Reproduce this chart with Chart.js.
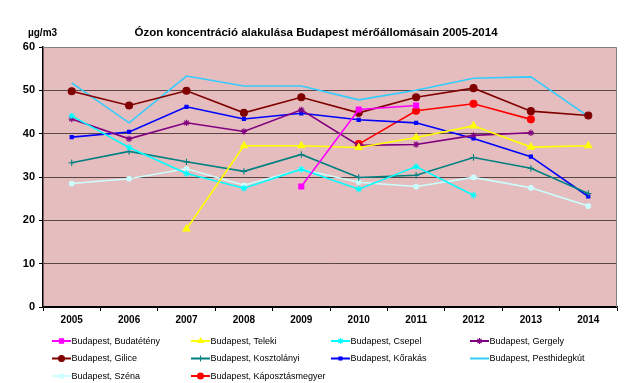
<!DOCTYPE html>
<html>
<head>
<meta charset="utf-8">
<script src="https://cdn.jsdelivr.net/npm/chart.js@4/dist/chart.umd.min.js"></script>
<style>
html,body{margin:0;padding:0;background:#fff;}
#wrap{position:relative;width:632px;height:383px;}
</style>
</head>
<body>
<div id="wrap"><canvas id="c" width="632" height="383"></canvas></div>
<script>
const years = ['2005','2006','2007','2008','2009','2010','2011','2012','2013','2014'];
const yTicks = [0,10,20,30,40,50,60];
const titleText = 'Ózon koncentráció alakulása Budapest mérőállomásain 2005-2014';
const unitText = 'µg/m3';

const budatetény = [null,null,null,null,27.8,45.6,46.5,null,null,null];
const teleki = [null,null,18.0,37.2,37.2,36.8,39.1,41.8,36.9,37.2];
const csepel = [44.1,36.8,30.8,27.4,31.8,27.2,32.4,25.8,null,null];
const gergely = [43.4,38.8,42.5,40.5,45.5,37.3,37.5,39.6,40.2,null];
const gilice = [49.8,46.5,49.9,44.8,48.4,44.8,48.4,50.5,45.2,44.2];
const kosztolanyi = [33.3,35.9,33.5,31.3,35.2,29.9,30.4,34.5,32.0,26.2];
const korakas = [39.2,40.4,46.2,43.4,44.7,43.2,42.5,38.9,34.7,25.5];
const pesthidegkut = [51.7,42.5,53.3,51.0,51.0,47.8,50.0,52.8,53.1,44.0];
const szena = [28.5,29.6,31.9,28.1,31.8,28.8,27.8,29.9,27.5,23.3];
const kaposztasmegyer = [null,null,null,null,null,37.6,45.3,46.9,43.3,null];

const seriesNames = ['Budapest, Budatétény','Budapest, Teleki','Budapest, Csepel','Budapest, Gergely',
  'Budapest, Gilice','Budapest, Kosztolányi','Budapest, Kőrakás','Budapest, Pesthidegkút',
  'Budapest, Széna','Budapest, Káposztásmegyer'];
const seriesData = [budatetény,teleki,csepel,gergely,gilice,kosztolanyi,korakas,pesthidegkut,szena,kaposztasmegyer];
const seriesColors = ['#FF00FF','#FFFF00','#00FFFF','#800080','#800000','#008080','#0000FF','#33CCFF','#CCFFFF','#FF0000'];
const seriesPoints = [['rect',3.5],['triangle',4],['star',3.2],['star',3.2],['circle',3.5],['cross',3.2],['rect',2.2],['circle',0],['circle',2.3],['circle',3.5]];

const datasets = seriesNames.map((n,i)=>({
  label:n, data:seriesData[i], borderColor:seriesColors[i], backgroundColor:seriesColors[i],
  borderWidth:1.6, pointStyle:seriesPoints[i][0], pointRadius:seriesPoints[i][1],
  pointBorderWidth:1.1, pointHoverRadius:seriesPoints[i][1], spanGaps:false, tension:0
}));

const FONT = '"Liberation Sans", Arial, sans-serif';

const bgPlugin = {
  id:'bg',
  beforeDraw(chart){
    const {ctx, chartArea:a} = chart;
    ctx.save();
    ctx.fillStyle = '#E5BDBE';
    ctx.fillRect(a.left, a.top, a.right-a.left, a.bottom-a.top);
    ctx.restore();
  },
  afterDatasetsDraw(chart){
    const {ctx, chartArea:a} = chart;
    ctx.save();
    ctx.strokeStyle = '#808080'; ctx.lineWidth = 1;
    ctx.beginPath();
    ctx.moveTo(a.left, a.top+0.5); ctx.lineTo(a.right-0.5, a.top+0.5); ctx.lineTo(a.right-0.5, a.bottom);
    ctx.stroke();
    ctx.restore();
  },
  afterDraw(chart){
    const {ctx} = chart;
    ctx.save();
    ctx.fillStyle = '#000';
    ctx.textBaseline = 'middle';
    ctx.font = 'bold 11.5px ' + FONT;
    ctx.textAlign = 'center';
    ctx.fillText(titleText, 316, 33);
    ctx.font = 'bold 10px ' + FONT;
    ctx.textAlign = 'left';
    ctx.fillText(unitText, 28, 33);
    // legend
    const colX = [52,191,331,470];
    const rowY = [341,358.5,376];
    ctx.font = '9px ' + FONT;
    chart.data.datasets.forEach((ds,i)=>{
      const x = colX[i%4], y = rowY[Math.floor(i/4)];
      ctx.strokeStyle = ds.borderColor; ctx.lineWidth = 2;
      ctx.beginPath(); ctx.moveTo(x, y); ctx.lineTo(x+19, y); ctx.stroke();
      if (ds.pointRadius > 0) {
        ctx.fillStyle = ds.backgroundColor; ctx.strokeStyle = ds.borderColor; ctx.lineWidth = 1.1;
        Chart.helpers.drawPoint(ctx, {pointStyle:ds.pointStyle, radius:Math.min(ds.pointRadius,3), rotation:0, borderWidth:1.1}, x+9.5, y);
      }
      ctx.fillStyle = '#000';
      ctx.textAlign = 'left';
      ctx.fillText(ds.label, x+19.5, y+0.5);
    });
    ctx.restore();
  }
};

new Chart(document.getElementById('c'), {
  type:'line',
  data:{labels:years, datasets},
  options:{
    responsive:false, animation:false, devicePixelRatio:1,
    layout:{padding:{left:0,right:15,top:47,bottom:51}},
    plugins:{legend:{display:false}, title:{display:false}, tooltip:{enabled:false}},
    scales:{
      x:{
        offset:true,
        grid:{display:true, drawOnChartArea:false, drawTicks:true, tickLength:4, offset:true, color:'#000', tickColor:'#000'},
        border:{display:true, color:'#000', width:1.5},
        ticks:{color:'#000', font:{family:FONT, size:10, weight:'bold'}, padding:3, maxRotation:0, autoSkip:false},
        afterFit(s){ s.height = 25; }
      },
      y:{
        min:0, max:60,
        afterBuildTicks(s){ s.ticks = yTicks.map(v=>({value:v})); },
        grid:{color:(c)=> c.tick.value===0 ? '#000' : (c.tick.value===60 ? 'rgba(0,0,0,0)' : '#5a4545'), lineWidth:1, tickLength:4, tickColor:'#000'},
        border:{display:true, color:'#000', width:1.5},
        ticks:{color:'#000', font:{family:FONT, size:11, weight:'bold'}, padding:4},
        afterFit(s){ s.width = 43; }
      }
    }
  },
  plugins:[bgPlugin]
});
</script>
</body>
</html>
